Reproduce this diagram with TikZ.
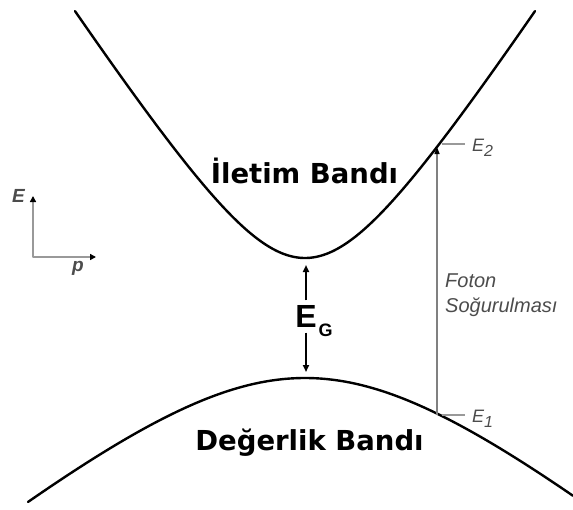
\documentclass[tikz,border=0pt]{standalone}
\usepackage{fontspec}
\setmainfont{Liberation Sans}
\newfontfamily\bandfont{DejaVu Sans}
\usetikzlibrary{arrows.meta,positioning}
\definecolor{axisgray}{gray}{0.6}
\definecolor{photongray}{gray}{0.5}
\definecolor{textgray}{gray}{0.3}

\begin{document}
\begin{tikzpicture}[x=10pt,y=-10pt]
	\tikzset{band/.style={line width=2.4pt, line cap=round}}
	\tikzset{bandlabel/.style={font=\bandfont\bfseries\fontsize{27.5}{30}\selectfont, inner sep=0pt}}
	\tikzset{axis/.style={draw=axisgray, line width=2pt, line join=round,
	    {Triangle[length=6pt,width=6pt,color=black]}-{Triangle[length=6pt,width=6pt,color=black]}}}
	\tikzset{small/.style={font=\itshape\fontsize{18}{18}\selectfont, text=textgray, inner sep=0pt}}
	\tikzset{tick/.style={draw=axisgray, line width=1.5pt}}
	\tikzset{gap/.style={line width=2pt, -{Triangle[length=7pt,width=6pt]}}}
	\tikzset{photon/.style={draw=photongray, line width=1.3pt, -{Triangle[length=7pt,width=5pt,color=black]}}}
	\tikzset{photontext/.style={font=\itshape\fontsize{20}{20}\selectfont, text=textgray, inner sep=0pt}}

	\useasboundingbox (0,0) rectangle (57.3,50.9);

	% bands
	\draw[band] plot[domain=-23:23, samples=101, smooth] ({30.5+\x},{25.8-sqrt(169+2.366*\x*\x)+13});
	\draw[band] plot[domain=-27.7:26.8, samples=101, smooth] ({30.5+\x},{37.8+sqrt(225+0.685*\x*\x)-15});

	% band names
	\node[bandlabel, anchor=base] (cond) at (30.45,18.3) {İletim Bandı};
	\node[bandlabel, anchor=base] (val) at (30.95,45.0) {Değerlik Bandı};

	% axes
	\coordinate (orig) at (3.3,25.7);
	\coordinate (etip) at (3.3,19.6);
	\coordinate (ptip) at (9.6,25.7);
	\draw[axis] (etip) -- (orig) -- (ptip);
	\node[small, font=\bfseries\itshape\fontsize{19}{19}\selectfont] (Elbl) at (1.85,19.6) {E};
	\node[small, font=\bfseries\itshape\fontsize{19}{19}\selectfont] (plbl) at (7.8,26.8) {p};

	% band gap
	\coordinate (cmin) at (30.6,26.5);
	\coordinate (vmax) at (30.6,37.2);
	\node[font=\bfseries\fontsize{32}{32}\selectfont, inner xsep=0pt, inner ysep=5pt] (EG) at (30.6,31.65)
	    {E\rlap{\hspace{2pt}\smash{\raisebox{-9pt}{\fontsize{18}{18}\selectfont G}}}};
	\draw[gap] (EG) -- (cmin);
	\draw[gap] (EG) -- (vmax);

	% photon absorption
	\coordinate (e1) at (43.7,41.5);
	\coordinate (e2) at (43.7,14.7);
	\draw[photon] (e1) -- (e2);
	\coordinate (t2a) at (44.2,14.4);
	\coordinate (t2b) at (46.5,14.4);
	\coordinate (t1a) at (44.2,41.5);
	\coordinate (t1b) at (46.5,41.5);
	\draw[tick] (t2a) -- (t2b);
	\draw[tick] (t1a) -- (t1b);
	\node[small, anchor=west] (E2lbl) at (47.2,14.8) {E\raisebox{-5pt}{\fontsize{16}{16}\selectfont 2}};
	\node[small, anchor=west] (E1lbl) at (47.2,41.9) {E\raisebox{-5pt}{\fontsize{16}{16}\selectfont 1}};
	\node[photontext, anchor=base west] (foton) at (44.5,28.7) {Foton};
	\node[photontext, anchor=base west] (sogur) at ([yshift=-25pt]foton.base west) {Soğurulması};
\end{tikzpicture}
\end{document}
